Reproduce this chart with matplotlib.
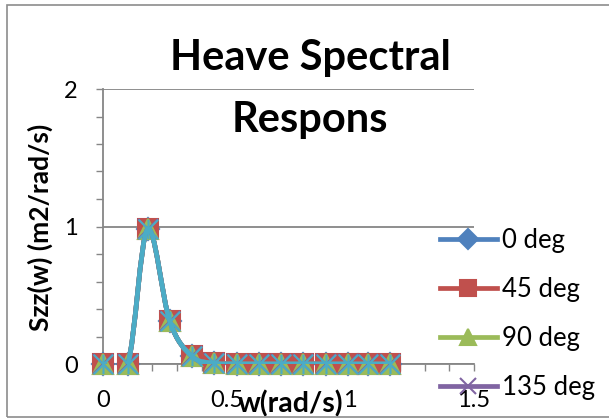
import numpy as np
import matplotlib
matplotlib.use('Agg')
import matplotlib.pyplot as plt
from matplotlib.lines import Line2D
from matplotlib.path import Path
from matplotlib.patches import PathPatch, Rectangle
from matplotlib.ticker import MultipleLocator

plt.rcParams['font.family'] = ['Lato', 'DejaVu Sans']

# frequency (rad/s)
w = [0, 0.10, 0.18, 0.27, 0.36, 0.45, 0.54, 0.63, 0.72, 0.81, 0.90, 0.99, 1.07, 1.16]
# heave spectral response per heading - all headings give the same curve
szz_0 = [0, 0, 0.98, 0.31, 0.055, 0.005, 0.001, 0, 0, 0, 0, 0, 0, 0]
szz_45 = [0, 0, 0.98, 0.31, 0.055, 0.005, 0.001, 0, 0, 0, 0, 0, 0, 0]
szz_90 = [0, 0, 0.98, 0.31, 0.055, 0.005, 0.001, 0, 0, 0, 0, 0, 0, 0]
szz_135 = [0, 0, 0.98, 0.31, 0.055, 0.005, 0.001, 0, 0, 0, 0, 0, 0, 0]
szz_5 = [0, 0, 0.98, 0.31, 0.055, 0.005, 0.001, 0, 0, 0, 0, 0, 0, 0]

labels = ['0 deg', '45 deg', '90 deg', '135 deg']
xtick_vals = [0, 0.5, 1, 1.5]
xtick_labels = ['0', '0.5', '1', '1.5']
ytick_vals = [0, 1, 2]
ytick_labels = ['0', '1', '2']

colors = ['#4F81BD', '#C0504D', '#9BBB59', '#8064A2', '#4BACC6']
gray = '#868686'

# excel "star" marker: an x with a vertical bar
star = Path([(-1, -1), (1, 1), (-1, 1), (1, -1), (0, -1), (0, 1)],
            [Path.MOVETO, Path.LINETO] * 3)
markers = ['D', 's', '^', 'x', star]


def smooth_path(x, y):
    # excel-like smoothed line (catmull-rom as cubic beziers)
    p = np.column_stack([x, y]).astype(float)
    n = len(p)
    verts = [p[0]]
    codes = [Path.MOVETO]
    for i in range(n - 1):
        p0 = p[max(i - 1, 0)]
        p1 = p[i]
        p2 = p[i + 1]
        p3 = p[min(i + 2, n - 1)]
        verts += [p1 + (p2 - p0) / 6, p2 - (p3 - p1) / 6, p2]
        codes += [Path.CURVE4] * 3
    return Path(verts, codes)


fig = plt.figure(figsize=(6.09, 4.19), dpi=100)
ax = fig.add_axes([103 / 609, 55 / 419, 371 / 609, 275 / 419])

series = [szz_0, szz_45, szz_90, szz_135, szz_5]
lw = 3.4
ms = 14
handles = []
for i, ys in enumerate(series):
    c = colors[i]
    ax.add_patch(PathPatch(smooth_path(w, ys), fill=False, edgecolor=c,
                           lw=lw, zorder=3 + 2 * i, capstyle='round',
                           joinstyle='round'))
    filled = markers[i] in ('D', 's', '^')
    ax.plot(w, ys, ls='none', marker=markers[i], ms=ms if i else ms * 0.8,
            color=c, mfc=c if filled else 'none', mec=c, mew=1.5,
            zorder=4 + 2 * i, clip_on=False)
    if i < len(labels):
        handles.append(Line2D([], [], color=c, lw=lw, marker=markers[i],
                              ms=12 if i else 10, mfc=c if filled else 'none',
                              mec=c, mew=1.5, label=labels[i]))

ax.set_xlim(0, 1.5)
ax.set_ylim(0, 2)
ax.set_xticks(xtick_vals)
ax.set_xticklabels(xtick_labels)
ax.set_yticks(ytick_vals)
ax.set_yticklabels(ytick_labels)
ax.xaxis.set_minor_locator(MultipleLocator(0.1))
ax.yaxis.set_minor_locator(MultipleLocator(0.2))
ax.tick_params(which='both', direction='out', length=5, width=1, color=gray,
               labelsize=17)
ax.tick_params(axis='y', pad=13)
ax.tick_params(axis='x', pad=14)

for s in ['top', 'right']:
    ax.spines[s].set_visible(False)
for s in ['left', 'bottom']:
    ax.spines[s].set_color(gray)
    ax.spines[s].set_linewidth(1.3)
ax.yaxis.grid(True, color=gray, lw=1.3)
ax.set_axisbelow(True)

ax.set_ylabel('Szz(w) (m2/rad/s)', fontsize=19, fontweight='bold', va='center')
ax.yaxis.set_label_coords(-63 / 371, 137 / 275)
ax.set_xlabel('w(rad/s)', fontsize=20.5, fontweight='bold', va='center')
ax.xaxis.set_label_coords(187 / 371, -40 / 275)

fig.text(310 / 609, 1 - 70 / 419, 'Heave Spectral', ha='center',
         va='baseline', fontsize=30, fontweight='bold')
fig.text(310 / 609, 1 - 132 / 419, 'Respons', ha='center',
         va='baseline', fontsize=30, fontweight='bold')

fig.legend(handles=handles, loc='upper left',
           bbox_to_anchor=(440 / 609, 1 - 228 / 419), frameon=False,
           fontsize=18.5, handlelength=2.2, handletextpad=0.2,
           labelspacing=0.94, borderpad=0, borderaxespad=0)

fig.add_artist(Rectangle((6.5 / 609, 2 / 419), 1.2, 412 / 419,
                         transform=fig.transFigure, fill=False,
                         edgecolor='#8c8c8c', lw=1.2))

fig.savefig('out.png', dpi=100)
